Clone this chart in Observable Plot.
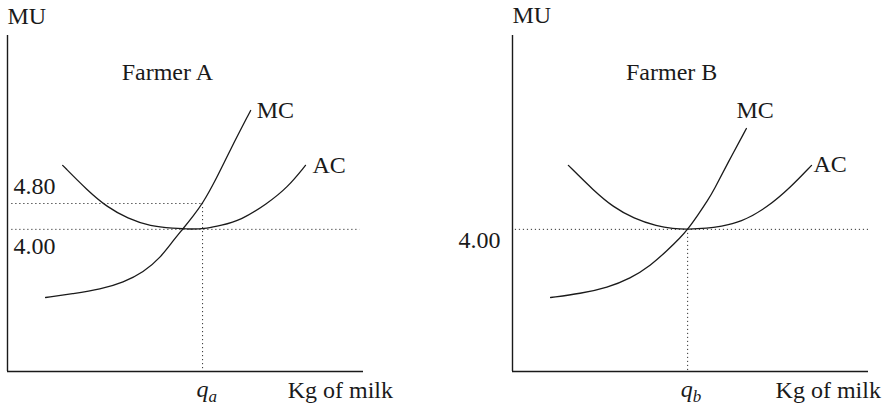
<!DOCTYPE html>
<html><head><meta charset="utf-8">
<script src="https://cdn.jsdelivr.net/npm/d3@7"></script>
<script src="https://cdn.jsdelivr.net/npm/@observablehq/plot@0.6"></script>
<style>
body{margin:0;background:#fff;}
#wrap{display:flex;width:890px;height:409px;}
#wrap svg{display:block;}
</style></head><body><div id="wrap"></div>
<script>
// ---- data ----
const panelTitles = ["Farmer A", "Farmer B"];
const yAxisLabel = "MU";
const xAxisLabel = "Kg of milk";
const qLabels = ["a", "b"];

const xDomain = [0, 10];
const yDomain = [-0.4, 10];

// Farmer A
const mcA_q  = [1.07, 1.85, 2.61, 3.26, 3.82, 4.30, 4.66, 4.94, 5.22, 5.48, 5.84, 6.26, 6.83];
const mcA_mu = [1.89, 2.01, 2.14, 2.36, 2.67, 3.13, 3.66, 4.03, 4.42, 4.80, 5.51, 6.47, 7.68];
const acA_q  = [1.55, 2.25, 2.81, 3.37, 4.02, 4.66, 5.14, 5.62, 5.98, 6.54, 7.30, 7.87, 8.37];
const acA_mu = [5.98, 5.20, 4.68, 4.34, 4.09, 4.03, 4.00, 4.03, 4.12, 4.27, 4.80, 5.30, 5.98];
const qA = 5.48;
const pricesA = [4.80, 4.00];
const priceLabelsA = ["4.80", "4.00"];

// Farmer B
const mcB_q  = [1.07, 1.91, 2.67, 3.31, 3.88, 4.35, 4.72, 4.92, 5.20, 5.48, 5.65, 6.04, 6.57];
const mcB_mu = [1.89, 2.01, 2.20, 2.48, 2.88, 3.35, 3.75, 4.00, 4.43, 4.89, 5.20, 6.04, 7.12];
const acB_q  = [1.57, 2.28, 2.84, 3.40, 4.07, 4.50, 4.92, 5.48, 5.84, 6.40, 7.16, 7.81, 8.40];
const acB_mu = [5.98, 5.20, 4.68, 4.34, 4.09, 4.02, 4.00, 4.03, 4.09, 4.21, 4.68, 5.30, 5.98];
const qB = 4.92;
const pricesB = [4.00];
const priceLabelsB = ["4.00"];

// ---- helpers ----
const pts = (qs, mus) => qs.map((q, i) => ({q, mu: mus[i]}));
const FONT = '"Liberation Serif", "Times New Roman", serif';
const FS = 24;
const INK = "#1a1a1a";
const dotted = {stroke: "#333", strokeWidth: 1, strokeDasharray: "1.2,2.8"};
const curveStyle = {x: "q", y: "mu", stroke: INK, strokeWidth: 1.3, curve: "basis"};
const txt = {fill: INK, fontSize: FS, lineAnchor: "bottom"};

function basePlot(opts, marks) {
  return Plot.plot({
    width: 445, height: 409,
    marginTop: 35, marginBottom: 38,
    marginLeft: opts.ml, marginRight: opts.mr,
    x: {domain: xDomain, axis: null},
    y: {domain: yDomain, axis: null},
    style: {fontFamily: FONT, fontSize: FS + "px", background: "white", overflow: "visible", color: INK},
    marks: [
      ...marks,
      Plot.ruleX([xDomain[0]], {stroke: INK, strokeWidth: 1.4}),
      Plot.ruleY([yDomain[0]], {stroke: INK, strokeWidth: 1.4})
    ]
  });
}

const mcA = pts(mcA_q, mcA_mu), acA = pts(acA_q, acA_mu);
const mcB = pts(mcB_q, mcB_mu), acB = pts(acB_q, acB_mu);

const left = basePlot({ml: 7, mr: 82}, [
  Plot.ruleY([pricesA[0]], {x1: 0.12, x2: qA, ...dotted}),
  Plot.ruleY([pricesA[1]], {x1: 0.12, x2: 9.9, ...dotted}),
  Plot.ruleX([qA], {y1: pricesA[0], y2: yDomain[0], ...dotted}),
  Plot.line(mcA, curveStyle),
  Plot.line(acA, curveStyle),
  Plot.text([priceLabelsA[0]], {x: xDomain[0], y: pricesA[0], text: d => d, textAnchor: "start", dx: 6, dy: -10, ...txt}),
  Plot.text([priceLabelsA[1]], {x: xDomain[0], y: pricesA[1], text: d => d, textAnchor: "start", dx: 6, dy: 25, ...txt}),
  Plot.text([mcA[mcA.length - 1]], {x: "q", y: "mu", text: () => "MC", textAnchor: "start", dx: 6, dy: 8, ...txt}),
  Plot.text([acA[acA.length - 1]], {x: "q", y: "mu", text: () => "AC", textAnchor: "start", dx: 7, dy: 8, ...txt}),
  Plot.text([panelTitles[0]], {x: 4.49, y: 8.61, text: d => d, textAnchor: "middle", ...txt}),
  Plot.text([yAxisLabel], {frameAnchor: "top-left", text: d => d, textAnchor: "start", dy: -12, ...txt}),
  Plot.text([xAxisLabel], {x: 7.87, frameAnchor: "bottom", text: d => d, textAnchor: "start", dy: 26, ...txt}),
  Plot.text(["q"], {x: qA, frameAnchor: "bottom", text: d => d, textAnchor: "end", dx: 6, dy: 25, fontStyle: "italic", ...txt}),
  Plot.text([qLabels[0]], {x: qA, frameAnchor: "bottom", text: d => d, textAnchor: "start", dx: 6, dy: 30, fontStyle: "italic", fill: INK, fontSize: 17, lineAnchor: "bottom"})
]);

const right = basePlot({ml: 67, mr: 22}, [
  Plot.ruleY([pricesB[0]], {x1: 0.08, x2: 10, ...dotted}),
  Plot.ruleX([qB], {y1: pricesB[0], y2: yDomain[0], ...dotted}),
  Plot.line(mcB, curveStyle),
  Plot.line(acB, curveStyle),
  Plot.text([priceLabelsB[0]], {x: xDomain[0], y: pricesB[0], text: d => d, textAnchor: "end", dx: -12, dy: 19, ...txt}),
  Plot.text([mcB[mcB.length - 1]], {x: "q", y: "mu", text: () => "MC", textAnchor: "start", dx: -10, dy: -11, ...txt}),
  Plot.text([acB[acB.length - 1]], {x: "q", y: "mu", text: () => "AC", textAnchor: "start", dx: 2, dy: 7, ...txt}),
  Plot.text([panelTitles[1]], {x: 4.47, y: 8.61, text: d => d, textAnchor: "middle", ...txt}),
  Plot.text([yAxisLabel], {frameAnchor: "top-left", text: d => d, textAnchor: "start", dy: -13, ...txt}),
  Plot.text([xAxisLabel], {x: 7.39, frameAnchor: "bottom", text: d => d, textAnchor: "start", dy: 26, ...txt}),
  Plot.text(["q"], {x: qB, frameAnchor: "bottom", text: d => d, textAnchor: "end", dx: 5, dy: 25, fontStyle: "italic", ...txt}),
  Plot.text([qLabels[1]], {x: qB, frameAnchor: "bottom", text: d => d, textAnchor: "start", dx: 5, dy: 30, fontStyle: "italic", fill: INK, fontSize: 17, lineAnchor: "bottom"})
]);

const wrap = document.getElementById("wrap");
wrap.appendChild(left);
wrap.appendChild(right);
</script>
</body></html>
